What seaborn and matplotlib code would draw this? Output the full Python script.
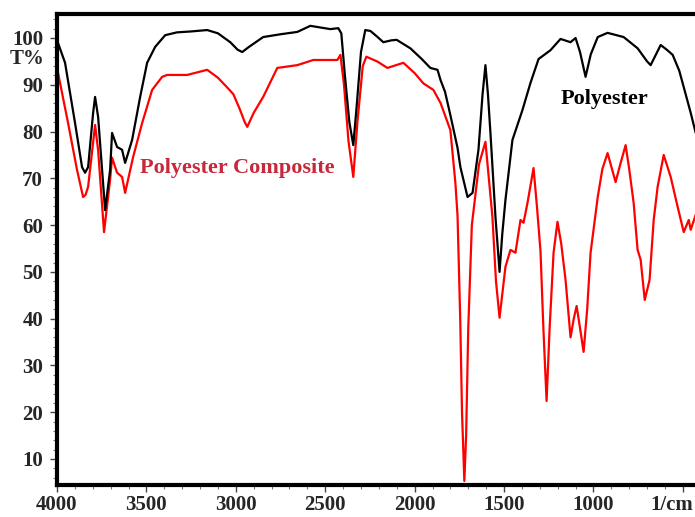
import numpy as np
import pandas as pd
import matplotlib
matplotlib.use("Agg")
import matplotlib.pyplot as plt
import seaborn as sns
from matplotlib.ticker import MultipleLocator

# ---- data ----
poly_wn = [4000, 3994, 3955, 3899, 3860, 3843, 3826, 3798, 3787, 3770, 3731, 3703, 3692,
           3664, 3636, 3619, 3580, 3535, 3496, 3451, 3395, 3330, 3250, 3160, 3100, 3031,
           2990, 2964, 2930, 2847, 2750, 2656, 2583, 2520, 2471, 2427, 2410, 2390, 2365,
           2343, 2325, 2300, 2276, 2247, 2210, 2175, 2130, 2100, 2079, 2024, 1960, 1912,
           1872, 1855, 1830, 1800, 1760, 1744, 1704, 1676, 1643, 1620, 1604, 1590, 1576,
           1548, 1525, 1510, 1492, 1453, 1397, 1352, 1307, 1240, 1184, 1128, 1100, 1075,
           1044, 1015, 976, 921, 831, 753, 700, 680, 650, 624, 590, 557, 520, 495, 456, 428]
poly_t = [99.5, 98.9, 94.7, 81.8, 72.4, 71.2, 72.4, 84.0, 87.4, 83.1, 63.2, 71.8, 79.7,
          76.7, 76.1, 73.3, 78.2, 87.4, 94.7, 98.1, 100.6, 101.2, 101.4, 101.7, 101.0, 99.1,
          97.5, 97.0, 98.0, 100.2, 100.8, 101.3, 102.6, 102.2, 101.9, 102.1, 101.0, 92.0, 82.0,
          77.1, 85.0, 97.0, 101.7, 101.5, 100.3, 99.1, 99.5, 99.6, 99.1, 97.8, 95.5, 93.6,
          93.2, 91.0, 88.5, 83.5, 76.5, 72.4, 66.0, 66.9, 76.1, 88.0, 94.2, 88.0, 79.7,
          61.8, 50.0, 58.0, 65.4, 78.2, 84.6, 90.4, 95.5, 97.4, 99.8, 99.1, 100.0, 97.0,
          91.7, 96.5, 100.2, 101.1, 100.2, 97.8, 95.0, 94.2, 96.5, 98.5, 97.5, 96.4, 93.0,
          89.5, 84.0, 79.7]

comp_wn = [4000, 3994, 3938, 3888, 3854, 3840, 3826, 3787, 3770, 3737, 3703, 3692, 3664,
           3636, 3619, 3574, 3524, 3468, 3412, 3384, 3272, 3160, 3100, 3050, 3014, 2980,
           2950, 2936, 2900, 2847, 2768, 2656, 2567, 2432, 2415, 2395, 2370, 2343, 2320,
           2290, 2270, 2210, 2152, 2063, 2000, 1951, 1895, 1855, 1800, 1772, 1760, 1745,
           1735, 1722, 1712, 1700, 1680, 1640, 1604, 1585, 1565, 1545, 1525, 1492, 1464,
           1436, 1408, 1391, 1369, 1335, 1316, 1296, 1280, 1262, 1245, 1223, 1201, 1180,
           1156, 1128, 1110, 1094, 1075, 1055, 1035, 1016, 976, 950, 921, 876, 850, 820,
           800, 775, 753, 736, 713, 686, 663, 641, 607, 568, 529, 495, 467, 456, 428]
comp_t = [93.0, 92.5, 81.8, 71.8, 66.0, 66.5, 68.2, 81.4, 76.0, 58.5, 69.7, 74.4, 71.2,
          70.3, 66.9, 74.6, 81.8, 88.9, 91.7, 92.1, 92.1, 93.2, 91.5, 89.5, 88.0, 85.0,
          82.0, 81.0, 84.0, 87.4, 93.6, 94.2, 95.3, 95.3, 96.4, 90.0, 78.0, 70.3, 82.0,
          94.0, 96.0, 95.0, 93.6, 94.7, 92.5, 90.3, 88.9, 86.1, 80.3, 69.0, 62.0, 40.0,
          20.0, 5.3, 15.0, 38.0, 60.0, 73.0, 77.8, 70.0, 61.8, 48.0, 40.2, 51.1, 54.7,
          54.1, 61.1, 60.5, 64.7, 72.2, 64.0, 54.4, 38.0, 22.4, 38.0, 54.1, 60.7, 56.0,
          48.3, 36.0, 40.0, 42.7, 38.0, 32.9, 42.0, 54.1, 66.0, 72.0, 75.4, 69.2, 73.0, 77.1,
          72.0, 64.7, 54.7, 52.6, 44.0, 48.3, 61.1, 68.2, 75.0, 70.3, 63.9, 58.5, 61.1, 59.0, 62.2]

x_ticks = [4000, 3500, 3000, 2500, 2000, 1500, 1000, 500]
x_ticklabels = ["4000", "3500", "3000", "2500", "2000", "1500", "1000", ""]
y_ticks = [10, 20, 30, 40, 50, 60, 70, 80, 90, 100]

df = pd.concat([
    pd.DataFrame({"wn": poly_wn, "T": poly_t, "sample": "Polyester"}),
    pd.DataFrame({"wn": comp_wn, "T": comp_t, "sample": "Polyester Composite"}),
])

sns.set_theme(style="white")
plt.rcParams["font.family"] = ["Liberation Serif", "DejaVu Serif"]
plt.rcParams["font.weight"] = "bold"

W, H = 695, 517
fig = plt.figure(figsize=(W / 100, H / 100), dpi=100)
ax = fig.add_axes([57 / W, (H - 485) / H, (W - 57) / W, (485 - 14) / H])

sns.lineplot(data=df, x="wn", y="T", hue="sample", estimator=None, sort=False,
             palette={"Polyester": "#000000", "Polyester Composite": "#ff0000"},
             hue_order=["Polyester Composite", "Polyester"],
             linewidth=1.6, legend=False, ax=ax)

ax.set_xlim(4000, 432)
ax.set_ylim(4.44, 105.13)
ax.set_xlabel("")
ax.set_ylabel("")

ax.set_xticks(x_ticks)
ax.set_xticklabels(x_ticklabels)
ax.set_yticks(y_ticks)
ax.xaxis.set_minor_locator(MultipleLocator(100))
ax.yaxis.set_minor_locator(MultipleLocator(2))
ax.tick_params(axis="both", which="major", direction="out", length=5, width=1.0,
               color="#444444", labelsize=15, bottom=True, left=True)
ax.tick_params(axis="x", which="major", pad=2)
ax.tick_params(axis="y", which="major", pad=5)
ax.tick_params(axis="both", which="minor", direction="out", length=3, width=0.8,
               color="#777777", bottom=True, left=True)
for lab in ax.get_xticklabels() + ax.get_yticklabels():
    lab.set_fontweight("bold")

for side in ["left", "bottom", "top"]:
    ax.spines[side].set_linewidth(3)
    ax.spines[side].set_color("black")
ax.spines["right"].set_visible(False)

ax.text(937, 87.0, "Polyester", color="black", fontsize=16, fontweight="bold",
        ha="center", va="center")
ax.text(3535, 72.2, "Polyester Composite", color="#c8283a", fontsize=16,
        fontweight="bold", ha="left", va="center")

fig.text(45 / W, 1 - 59.5 / H, "T%", fontsize=15, fontweight="bold",
         ha="right", va="center")
fig.text(650 / W, 1 - 505 / H, "1/cm", fontsize=15, fontweight="bold",
         ha="left", va="center")

fig.savefig("out.png", dpi=100, facecolor="white")
